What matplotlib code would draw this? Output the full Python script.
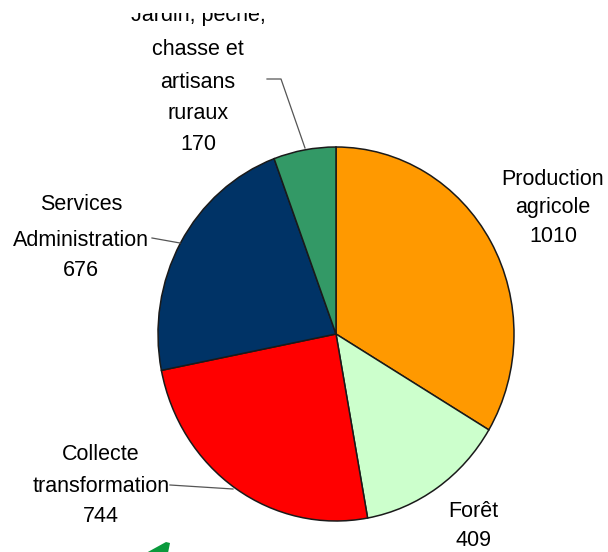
import matplotlib
matplotlib.use("Agg")
import matplotlib.pyplot as plt
from matplotlib.patches import Rectangle

categories = ["Production\nagricole", "Forêt", "Collecte\ntransformation",
              "Services\nAdministration", "Jardin, pêche,\nchasse et\nartisans\nruraux"]
values = [1010, 409, 744, 676, 170]
colors = ["#FF9900", "#CCFFCC", "#FF0000", "#003366", "#339966"]

W, H = 608, 552
fig = plt.figure(figsize=(W / 100, H / 100), dpi=100)

# pie axes (slightly elliptical like the reference)
left, right, top, bottom = 158, 514, 147, 521
axp = fig.add_axes([left / W, (H - bottom) / H, (right - left) / W, (bottom - top) / H])
axp.pie(values, colors=colors, startangle=90, counterclock=False, radius=1,
        wedgeprops=dict(edgecolor="#1a1a1a", linewidth=1.1))
axp.set_aspect("auto")
axp.set_xlim(-1, 1)
axp.set_ylim(-1, 1)
axp.axis("off")

# overlay in pixel coordinates for labels
ax = fig.add_axes([0, 0, 1, 1], zorder=3)
ax.set_xlim(0, W)
ax.set_ylim(H, 0)
ax.axis("off")
ax.patch.set_alpha(0)

font = dict(family=["Liberation Sans", "DejaVu Sans"], fontsize=15.5, ha="center",
            va="baseline", color="black")
# (x centre, baselines of each line)
label_layout = [
    (553, [185, 213, 242]),
    (473, [517, 546]),
    (101, [460, 492, 522]),
    (81, [210, 246, 276]),
    (198, [21, 55, 88, 119, 150]),
]
for cat, val, (x, baselines) in zip(categories, values, label_layout):
    lines = cat.split("\n") + [str(val)]
    for line, yb in zip(lines, baselines):
        ax.text(x, yb, line, **font)

# the reference's top edge hides the upper half of the first line
ax.add_patch(Rectangle((0, 0), W, 13, facecolor="white", edgecolor="none", zorder=5))

# leader lines
lc = dict(color="#555555", linewidth=0.9)
ax.plot([267, 281, 305], [79, 79, 148], **lc)
ax.plot([152, 180], [238, 243], **lc)
ax.plot([170, 233], [485, 489], **lc)

# partial green arrow at bottom
ax.fill([146, 166, 170, 168], [553, 542, 543, 553], color="#0A9A3C", lw=0)

fig.savefig("out.png", dpi=100)
